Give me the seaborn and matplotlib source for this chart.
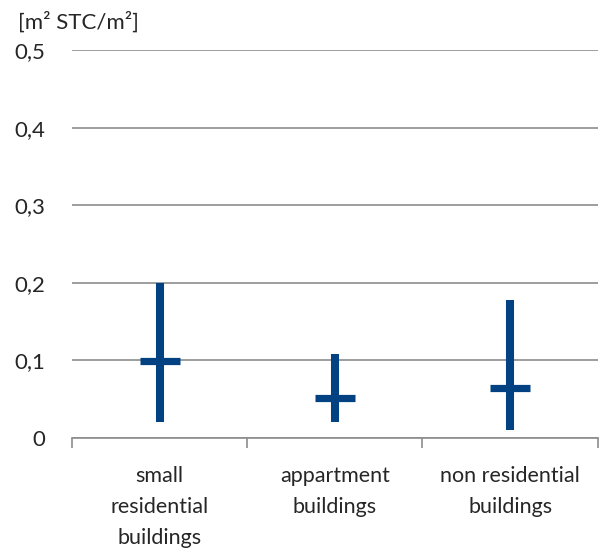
import numpy as np
import matplotlib
matplotlib.use("Agg")
import matplotlib.pyplot as plt
import seaborn as sns

# values
categories = ["small\nresidential\nbuildings", "appartment\nbuildings", "non residential\nbuildings"]
min_vals = [0.02, 0.02, 0.01]
max_vals = [0.20, 0.108, 0.178]
mean_vals = [0.099, 0.052, 0.065]
y_ticks = [0, 0.1, 0.2, 0.3, 0.4, 0.5]
y_labels = ["0", "0,1", "0,2", "0,3", "0,4", "0,5"]
unit_label = "[m² STC/m²]"

color = "#024283"

sns.set_style("white")
plt.rcParams["font.family"] = ["Lato", "DejaVu Sans"]

fig = plt.figure(figsize=(5.99, 5.59), dpi=100)
ax = fig.add_axes([0.12, 0.2165, 0.878, 0.694])

pos = np.arange(len(categories))
ax.vlines(pos, min_vals, max_vals, color=color, linewidth=5.8, zorder=3)
sns.scatterplot(x=pos, y=mean_vals, marker="_", s=830, linewidth=5.2,
                color=color, ax=ax, zorder=4, legend=False)

ax.set_xlim(-0.5, len(categories) - 0.5)
ax.set_ylim(0, 0.5)
ax.set_yticks(y_ticks)
ax.set_yticklabels(y_labels, fontsize=16)
ax.yaxis.grid(True, color="#8c8c8c", linewidth=1.2)
ax.set_axisbelow(True)

# category ticks between groups, labels centred under each group
ax.set_xticks(np.arange(-0.5, len(categories), 1.0))
ax.set_xticklabels([])
ax.set_xticks(pos, minor=True)
ax.set_xticklabels(categories, minor=True, fontsize=15.5, linespacing=1.7)
ax.tick_params(axis="x", which="major", length=7, color="#8c8c8c", width=1.2, direction="out")
ax.tick_params(axis="x", which="minor", length=0, pad=20)
ax.tick_params(axis="y", length=0, pad=19)
ax.xaxis.set_ticks_position("bottom")

for side in ["top", "right", "left"]:
    ax.spines[side].set_visible(False)
ax.spines["bottom"].set_color("#8c8c8c")
ax.spines["bottom"].set_linewidth(1.2)

fig.text(18 / 599, 1 - 22 / 559, unit_label, fontsize=16, va="center", ha="left")

fig.savefig("out.png", dpi=100)
